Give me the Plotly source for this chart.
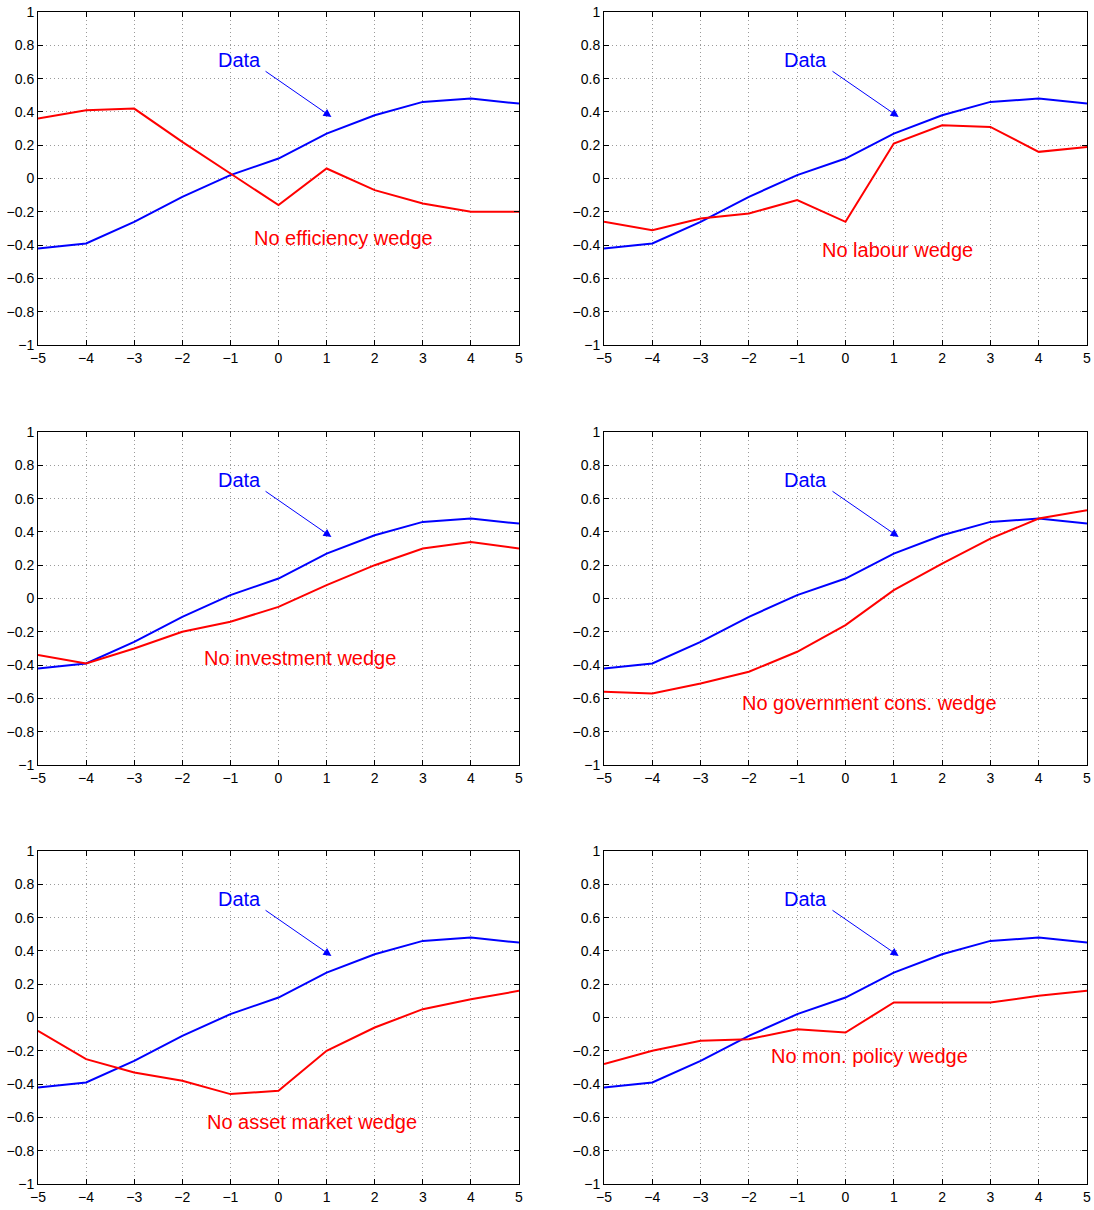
import plotly.graph_objects as go

periods = [-5, -4, -3, -2, -1, 0, 1, 2, 3, 4, 5]
data_series = [-0.42, -0.39, -0.26, -0.11, 0.02, 0.12, 0.27, 0.38, 0.46, 0.48, 0.45]

no_efficiency = [0.36, 0.41, 0.42, 0.22, 0.03, -0.16, 0.06, -0.07, -0.15, -0.20, -0.20]
no_labour = [-0.26, -0.31, -0.24, -0.21, -0.13, -0.26, 0.21, 0.32, 0.31, 0.16, 0.19]
no_investment = [-0.34, -0.39, -0.30, -0.20, -0.14, -0.05, 0.08, 0.20, 0.30, 0.34, 0.30]
no_government = [-0.56, -0.57, -0.51, -0.44, -0.32, -0.16, 0.05, 0.21, 0.36, 0.48, 0.53]
no_asset = [-0.08, -0.25, -0.33, -0.38, -0.46, -0.44, -0.20, -0.06, 0.05, 0.11, 0.16]
no_monpolicy = [-0.28, -0.20, -0.14, -0.13, -0.07, -0.09, 0.09, 0.09, 0.09, 0.13, 0.16]

panel_series = [no_efficiency, no_labour, no_investment, no_government, no_asset, no_monpolicy]
panel_labels = ["No efficiency wedge", "No labour wedge", "No investment wedge",
                "No government cons. wedge", "No asset market wedge", "No mon. policy wedge"]
label_pos = [(1.36, -0.36), (1.07, -0.43), (0.45, -0.36), (0.5, -0.63), (0.7, -0.63), (0.5, -0.23)]

W, H = 1094, 1210
xpix = [(38, 519), (604, 1087)]
ypix = [(12, 345), (432, 765), (851, 1184)]
xdoms = [(a / W, b / W) for a, b in xpix]
ydoms = [(1 - b / H, 1 - t / H) for t, b in ypix]

fig = go.Figure()
FONT = "Liberation Sans, Arial, Helvetica, sans-serif"

for i in range(6):
    r, c = divmod(i, 2)
    n = i + 1
    xa = "x" if n == 1 else f"x{n}"
    ya = "y" if n == 1 else f"y{n}"
    xkey = "xaxis" if n == 1 else f"xaxis{n}"
    ykey = "yaxis" if n == 1 else f"yaxis{n}"
    fig.add_trace(go.Scatter(x=periods, y=data_series, mode="lines",
                             line=dict(color="#0000ff", width=2), xaxis=xa, yaxis=ya,
                             showlegend=False))
    fig.add_trace(go.Scatter(x=periods, y=panel_series[i], mode="lines",
                             line=dict(color="#ff0000", width=2), xaxis=xa, yaxis=ya,
                             showlegend=False))
    common = dict(showline=True, linecolor="black", linewidth=1, mirror="ticks",
                  ticks="inside", ticklen=5, tickcolor="black", automargin=False,
                  showgrid=True, gridcolor="#9a9a9a", griddash="1px,3px", gridwidth=1,
                  zeroline=False, tickfont=dict(family=FONT, size=14, color="black"))
    fig.layout[xkey] = dict(domain=list(xdoms[c]), range=[-5, 5], dtick=1, tick0=0,
                            anchor=ya, ticklabeloverflow="allow", **common)
    fig.layout[ykey] = dict(domain=list(ydoms[r]), range=[-1, 1], dtick=0.2, tick0=0,
                            anchor=xa, ticklabeloverflow="allow", **common)
    fig.add_annotation(x=1.1, y=0.37, ax=-0.3, ay=0.65, xref=xa, yref=ya,
                       axref=xa, ayref=ya, text="", showarrow=True,
                       arrowhead=2, arrowsize=1.6, arrowwidth=1, arrowcolor="#0000ff")
    fig.add_annotation(x=-0.82, y=0.71, xref=xa, yref=ya, text="Data", showarrow=False,
                       font=dict(family=FONT, size=20, color="#0000ff"))
    lx, ly = label_pos[i]
    fig.add_annotation(x=lx, y=ly, xref=xa, yref=ya, text=panel_labels[i], showarrow=False,
                       font=dict(family=FONT, size=20, color="#ff0000"))

fig.update_layout(width=W, height=H, margin=dict(l=0, r=0, t=0, b=0),
                  paper_bgcolor="white", plot_bgcolor="white", showlegend=False)
fig.write_html("out.html", config={"displayModeBar": False},
               post_script="document.body.style.margin='0';document.body.style.overflow='hidden';")
